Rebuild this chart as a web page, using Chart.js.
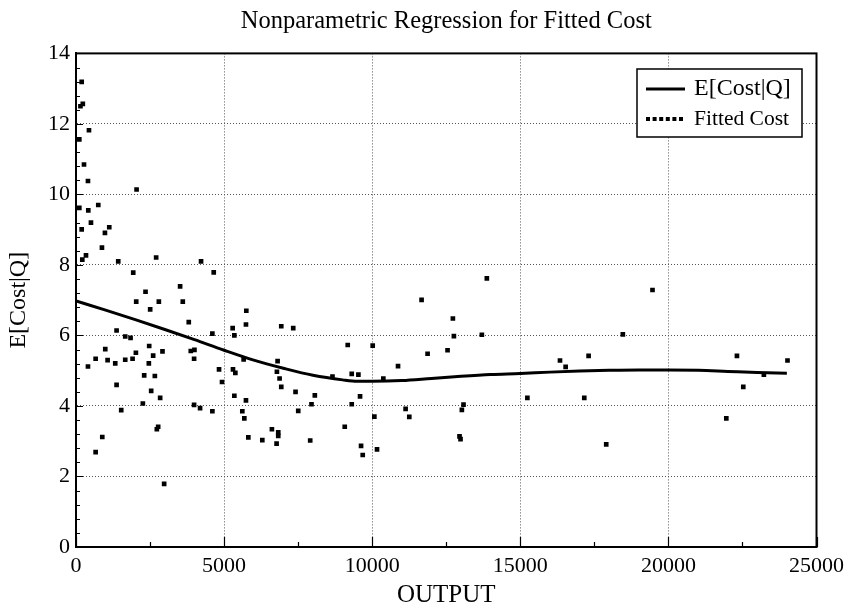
<!DOCTYPE html>
<html>
<head>
<meta charset="utf-8">
<script src="https://cdn.jsdelivr.net/npm/chart.js@4/dist/chart.umd.min.js"></script>
<style>
  html, body { margin: 0; padding: 0; background: #fff; }
  #wrap { width: 850px; height: 605px; }
</style>
</head>
<body>
<div id="wrap"><canvas id="costctr" width="850" height="605"></canvas></div>
<script>
// fitted cost points (output, cost)
const outputX = [192, 150, 230, 438, 112, 270, 404, 2045, 112, 415, 752, 505, 192, 1123, 977, 876, 213, 337, 1426, 2706,
  4222, 1932, 4650, 3515, 2347, 2033, 2797, 3605, 2504, 5750, 3807, 5738, 5289, 5346, 4604, 1370, 1662, 1842, 988, 2471,
  2022, 2605, 2920, 3875, 3999, 3987, 404, 663, 1067, 1325, 1662, 1910, 2459, 5660, 4829, 5300, 5380, 4930, 2302, 2662,
  1370, 2538, 2841, 5346, 5738, 2257, 3987, 4189, 4604, 1527, 5615, 5683, 5818, 887, 663, 2774, 2729, 2976, 11667, 6930,
  7334, 9174, 10017, 11870, 6806, 6783, 6873, 6930, 8659, 9309, 9534, 10376, 10872, 7412, 8063, 7951, 9309, 9590, 7503, 11128,
  11252, 10073, 6614, 6828, 6828, 6290, 6772, 7907, 9073, 9624, 9680, 10163, 13870, 12724, 12758, 13702, 12544, 16340, 16531, 17306,
  15239, 17160, 13083, 13027, 12948, 12982, 17901, 19463, 18462, 22314, 24021, 23223, 22528, 21955];
const costY = [13.19, 12.5, 12.57, 11.82, 11.56, 10.85, 10.38, 10.14, 9.62, 9.55, 9.70, 9.20, 9.01, 9.07, 8.91, 8.49, 8.15, 8.27, 8.10, 8.21,
  8.10, 7.78, 7.79, 7.39, 7.24, 6.96, 6.96, 6.96, 6.74, 6.70, 6.38, 6.31, 6.21, 6.00, 6.05, 6.14, 5.97, 5.93, 5.61, 5.70,
  5.51, 5.43, 5.55, 5.56, 5.59, 5.34, 5.12, 5.34, 5.30, 5.21, 5.31, 5.34, 5.21, 5.32, 5.04, 5.04, 4.94, 4.68, 4.87, 4.85,
  4.60, 4.43, 4.23, 4.29, 4.16, 4.07, 4.03, 3.94, 3.85, 3.88, 3.85, 3.65, 3.11, 3.12, 2.69, 3.41, 3.34, 1.79, 7.01, 6.26,
  6.21, 5.73, 5.71, 5.48, 5.27, 4.97, 4.78, 4.54, 4.83, 4.91, 4.89, 4.78, 5.13, 4.40, 4.30, 4.05, 4.05, 4.27, 3.86, 3.92,
  3.69, 3.70, 3.34, 3.25, 3.15, 3.03, 2.93, 3.02, 3.41, 2.87, 2.61, 2.77, 7.62, 6.48, 5.98, 6.02, 5.58, 5.29, 5.11, 5.42,
  4.23, 4.23, 4.04, 3.89, 3.14, 3.06, 2.91, 7.29, 6.03, 5.42, 5.29, 4.89, 4.54, 3.65];

// nonparametric regression curve E[Cost|Q]
const fitX = [0, 1000, 2000, 3000, 4000, 5000, 6000, 7000, 8000, 9000, 9500, 10000, 11000, 12000,
  13000, 14000, 15000, 16000, 17000, 18000, 19000, 20000, 21000, 22000, 23000, 24000];
const fitY = [6.98, 6.72, 6.45, 6.17, 5.88, 5.58, 5.30, 5.07, 4.87, 4.74, 4.70, 4.70, 4.72, 4.78,
  4.84, 4.89, 4.92, 4.96, 4.99, 5.01, 5.02, 5.02, 5.01, 4.98, 4.95, 4.93];

const xTicks = [0, 5000, 10000, 15000, 20000, 25000];
const yTicks = [0, 2, 4, 6, 8, 10, 12, 14];

const serif = "'Liberation Serif', 'Times New Roman', serif";

// minor ticks + frame
const frameTicks = {
  id: 'frameTicks',
  afterDatasetsDraw(chart) {
    const { ctx, chartArea: a, scales: { x, y } } = chart;
    ctx.save();
    ctx.strokeStyle = '#000';
    ctx.lineWidth = 1.2;
    ctx.beginPath();
    for (let v = 0; v <= 14.001; v += 0.4) {
      const py = Math.round(y.getPixelForValue(v)) + 0.5;
      const len = Math.abs(v / 2 - Math.round(v / 2)) < 0.01 ? 7 : 4;
      ctx.moveTo(a.left, py); ctx.lineTo(a.left + len, py);
    }
    for (let v = 0; v <= 25000; v += 2500) {
      const px = Math.round(x.getPixelForValue(v)) + 0.5;
      const len = v % 5000 === 0 ? 10 : 5;
      ctx.moveTo(px, a.bottom); ctx.lineTo(px, a.bottom - len);
    }
    ctx.stroke();
    ctx.lineWidth = 2;
    ctx.strokeRect(a.left, a.top, a.right - a.left, a.bottom - a.top);
    ctx.restore();
  }
};

// legend box inside plot (top right)
const boxLegend = {
  id: 'boxLegend',
  afterDraw(chart) {
    const { ctx } = chart;
    const ds = chart.data.datasets;
    const bx = 637, by = 69, bw = 165, bh = 68;
    ctx.save();
    ctx.fillStyle = '#fff';
    ctx.fillRect(bx, by, bw, bh);
    ctx.strokeStyle = '#000';
    ctx.lineWidth = 1.5;
    ctx.strokeRect(bx, by, bw, bh);
    // solid line sample
    ctx.lineWidth = 3;
    ctx.beginPath(); ctx.moveTo(646, 89); ctx.lineTo(685, 89); ctx.stroke();
    // dotted sample
    ctx.fillStyle = '#000';
    for (let i = 0; i < 6; i++) ctx.fillRect(646 + i * 6.6, 117, 4, 4);
    ctx.textBaseline = 'middle';
    ctx.textAlign = 'left';
    ctx.font = '24px ' + serif;
    ctx.fillText(ds[0].label, 694, 89);
    ctx.font = '21.5px ' + serif;
    ctx.fillText(ds[1].label, 694, 119);
    ctx.restore();
  }
};

const chartCost = document.getElementById('costctr').getContext('2d');
const costChart = new Chart(chartCost, {
  data: {
    datasets: [{
      type: 'line',
      label: 'E[Cost|Q]',
      data: fitX.map((v, i) => ({ x: v, y: fitY[i] })),
      borderColor: '#000',
      borderWidth: 3,
      pointRadius: 0,
      cubicInterpolationMode: 'monotone',
      fill: false,
      order: 1
    }, {
      type: 'scatter',
      label: 'Fitted Cost',
      data: outputX.map((v, i) => ({ x: v, y: costY[i] })),
      pointStyle: 'rect',
      pointRadius: 3.3,
      backgroundColor: '#000',
      borderColor: '#000',
      borderWidth: 0,
      order: 2
    }]
  },
  options: {
    responsive: false,
    animation: false,
    layout: { padding: { left: 0, right: 31, top: 0, bottom: 0 } },
    plugins: {
      legend: { display: false },
      tooltip: { enabled: false },
      title: {
        display: true,
        fullSize: false,
        text: 'Nonparametric Regression for Fitted Cost',
        color: '#000',
        font: { family: serif, size: 24.5, weight: 'normal' },
        padding: { top: 7, bottom: 17 }
      }
    },
    scales: {
      x: {
        type: 'linear',
        min: 0, max: 25000,
        afterBuildTicks: s => { s.ticks = xTicks.map(v => ({ value: v })); },
        afterFit: s => { s.height = 58; },
        ticks: { color: '#000', font: { family: serif, size: 22 }, padding: 6, maxRotation: 0, callback: v => String(v) },
        grid: { color: '#555', lineWidth: 1, drawTicks: false, tickLength: 0 },
        border: { display: true, color: '#000', width: 2, dash: [1, 2] },
        title: { display: true, text: 'OUTPUT', color: '#000', font: { family: serif, size: 25, lineHeight: 1 }, padding: { top: 0, bottom: -3 } }
      },
      y: {
        type: 'linear',
        min: 0, max: 14,
        afterBuildTicks: s => { s.ticks = yTicks.map(v => ({ value: v })); },
        afterFit: s => { s.width = 76; },
        ticks: { color: '#000', font: { family: serif, size: 22 }, padding: 6, callback: v => String(v) },
        grid: { color: '#555', lineWidth: 1, drawTicks: false, tickLength: 0 },
        border: { display: true, color: '#000', width: 2, dash: [1, 2] },
        title: { display: true, text: 'E[Cost|Q]', color: '#000', font: { family: serif, size: 24 }, padding: { top: 4, bottom: 0 } }
      }
    }
  },
  plugins: [frameTicks, boxLegend]
});
</script>
</body>
</html>
